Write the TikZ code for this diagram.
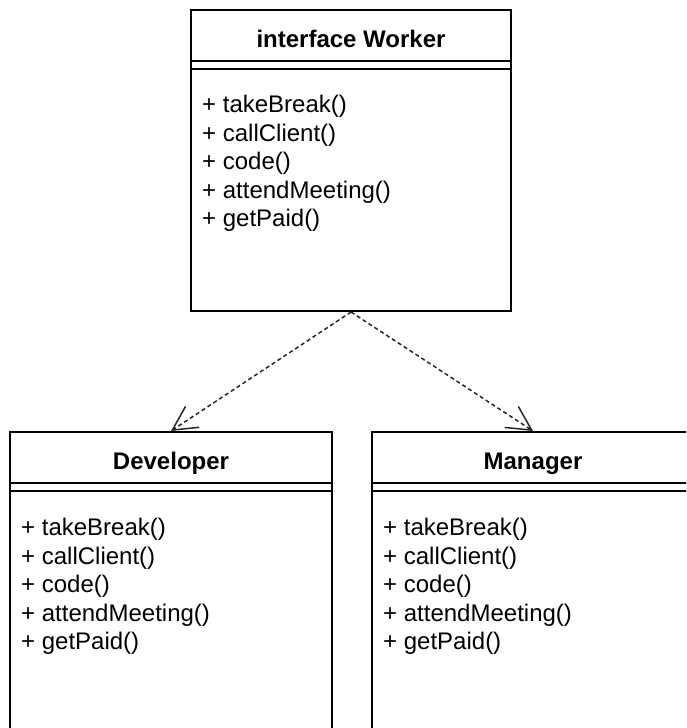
\documentclass[tikz,border=0pt]{standalone}
\usepackage{fontspec}
\setmainfont{Liberation Sans}
\usetikzlibrary{arrows.meta,calc}
\tikzset{>={Straight Barb[length=24pt,width=25pt]}}
\tikzstyle{classbox}=[rectangle,draw=black,line width=2pt,fill=white,inner sep=0pt]
\tikzstyle{classname}=[font=\fontsize{24}{28}\selectfont\bfseries,inner sep=0pt,text height=17pt,text depth=5pt]
\tikzstyle{methods}=[font=\fontsize{24}{28.5}\selectfont,align=left,inner sep=0pt,anchor=north west]
\tikzstyle{sepline}=[draw=black,line width=2pt]
\tikzstyle{realize}=[draw=black!85,line width=1.5pt,dash pattern=on 4pt off 3pt]

\begin{document}
\begin{tikzpicture}[x=1pt,y=-1pt]
	\useasboundingbox (0,0) rectangle (686,728);
	\clip (0,0) rectangle (686,728);
	
	\node[classbox, minimum width=320pt, minimum height=301pt] (worker) at (351, 160.5) {};
	\node[classbox, minimum width=322pt, minimum height=340pt] (developer) at (171, 602) {};
	\node[classbox, minimum width=322pt, minimum height=340pt] (manager) at (533, 602) {};
	
	\node[classname] (workername) at (351, 41) {interface Worker};
	\node[classname] (developername) at (171, 463) {Developer};
	\node[classname] (managername) at (533, 463) {Manager};
	
	\draw[sepline] ($(worker.north west)+(0,52)$) -- ($(worker.north east)+(0,52)$);
	\draw[sepline] ($(worker.north west)+(0,60)$) -- ($(worker.north east)+(0,60)$);
	\draw[sepline] ($(developer.north west)+(0,52)$) -- ($(developer.north east)+(0,52)$);
	\draw[sepline] ($(developer.north west)+(0,60)$) -- ($(developer.north east)+(0,60)$);
	\draw[sepline] ($(manager.north west)+(0,52)$) -- ($(manager.north east)+(0,52)$);
	\draw[sepline] ($(manager.north west)+(0,60)$) -- ($(manager.north east)+(0,60)$);
	
	\node[methods] (workerops) at ($(worker.north west)+(12,86)$) {+ takeBreak()\\+ callClient()\\+ code()\\+ attendMeeting()\\+ getPaid()};
	\node[methods] (developerops) at ($(developer.north west)+(12,87)$) {+ takeBreak()\\+ callClient()\\+ code()\\+ attendMeeting()\\+ getPaid()};
	\node[methods] (managerops) at ($(manager.north west)+(12,87)$) {+ takeBreak()\\+ callClient()\\+ code()\\+ attendMeeting()\\+ getPaid()};
	
	\draw[realize,->] (worker.south) -- (developer.north);
	\draw[realize,->] (worker.south) -- (manager.north);
\end{tikzpicture}
\end{document}
